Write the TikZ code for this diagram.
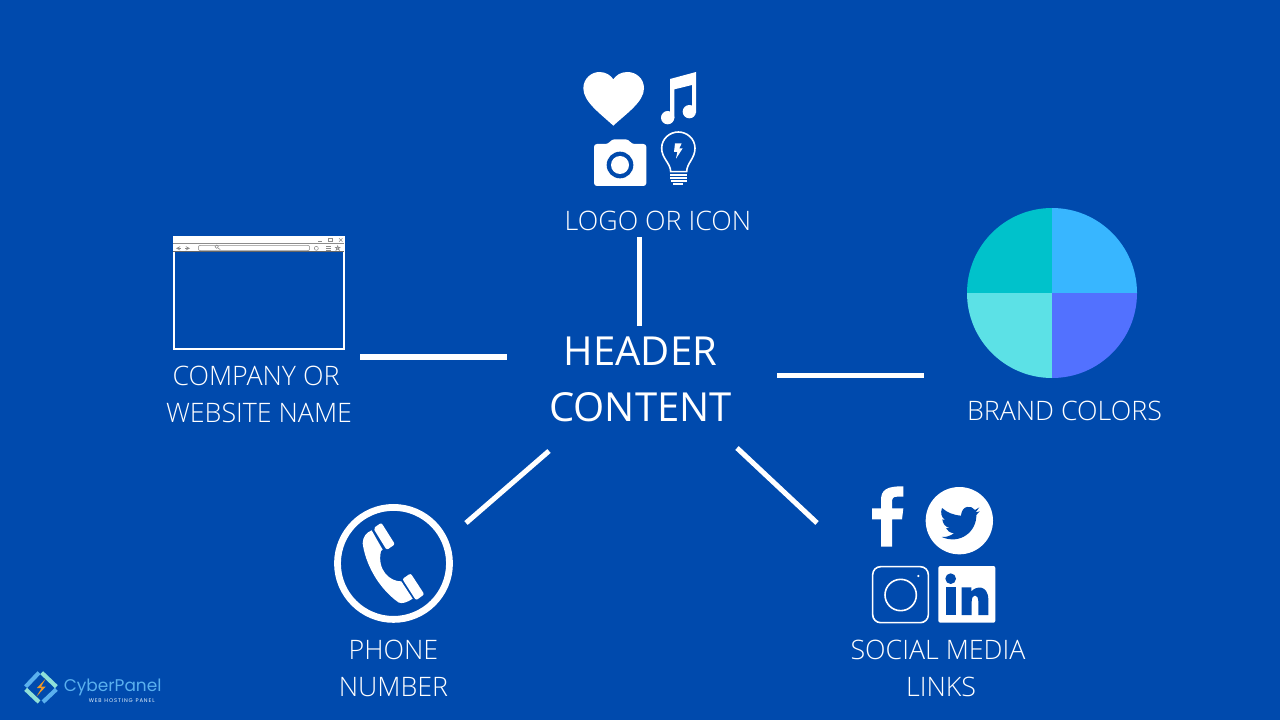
\documentclass[tikz,border=0pt]{standalone}
\usepackage{fontspec}
\setmainfont{Open Sans}
\newfontfamily\lightf{Open Sans Light}
\newfontfamily\logof{Poppins}
\definecolor{bg}{HTML}{004AAD}
\definecolor{pa}{HTML}{00C2CB}
\definecolor{pb}{HTML}{38B6FF}
\definecolor{pc}{HTML}{5CE1E6}
\definecolor{pd}{HTML}{5271FF}
\definecolor{lg}{HTML}{5AB0EE}
\definecolor{lt}{HTML}{8FE0D8}
\definecolor{ora}{HTML}{F59A23}
\tikzset{
  lab/.style={text=white,font=\lightf\fontsize{20.1pt}{24pt}\selectfont,inner sep=0pt,anchor=center},
  head/.style={text=white,font=\fontsize{30pt}{36pt}\selectfont,inner sep=0pt,anchor=center},
  conn/.style={draw=white,line width=3.8pt},
  z1/.style={shift={(560,60)},x=0.25pt,y=-0.25pt},
  z2/.style={shift={(160,230)},x=0.25pt,y=-0.25pt},
  z3/.style={shift={(320,495)},x=0.25pt,y=-0.25pt},
  z4/.style={shift={(860,480)},x=0.25pt,y=-0.25pt},
  z5/.style={shift={(15,660)},x=0.25pt,y=-0.25pt},
  gr/.style={draw=black!45,line width=0.4pt},
}
\begin{document}
\begin{tikzpicture}[x=0.75pt,y=-0.75pt]
\useasboundingbox (0,0) rectangle (1280,720);
\fill[bg] (0,0) rectangle (1280,720);
% texts
\node[head] (hdra) at (640.5,351) {HEADER};
\node[head] (hdrb) at (640.5,407) {CONTENT};
\node[lab] (logo) at (658,221) {LOGO OR ICON};
\node[lab] (coa) at (256,376) {COMPANY OR};
\node[lab] (cob) at (259,413) {WEBSITE NAME};
\node[lab] (brand) at (1064.5,411) {BRAND COLORS};
\node[lab] (pha) at (393.5,650) {PHONE};
\node[lab] (phb) at (393.5,687) {NUMBER};
\node[lab] (soa) at (938,650) {SOCIAL MEDIA};
\node[lab] (sob) at (941,687) {LINKS};
% connectors
\coordinate (c1a) at (639.5,237); \coordinate (c1b) at (639.5,326);
\coordinate (c2a) at (360,357); \coordinate (c2b) at (507,357);
\coordinate (c3a) at (777,375.5); \coordinate (c3b) at (924,375.5);
\coordinate (c4a) at (549,451); \coordinate (c4b) at (466,523);
\coordinate (c5a) at (737,448); \coordinate (c5b) at (817,523);
\draw[conn] (c1a) -- (c1b);
\draw[conn] (c2a) -- (c2b);
\draw[conn] (c3a) -- (c3b);
\draw[conn] (c4a) -- (c4b);
\draw[conn] (c5a) -- (c5b);
% top icons
\begin{scope}[z1]
\fill[white] (160,197) .. controls (120,160) and (70,125) .. (70,85)
  .. controls (70,55) and (95,36) .. (118,36)
  .. controls (138,36) and (152,46) .. (160,58)
  .. controls (168,46) and (182,36) .. (202,36)
  .. controls (228,36) and (252,55) .. (252,85)
  .. controls (252,125) and (200,160) .. (160,197) -- cycle;
\fill[white] (330,57) -- (408,36) -- (408,158) -- (396,158) -- (396,75) -- (343,88) -- (343,175) -- (330,175) -- cycle;
\fill[white] (323,173) circle[x radius=20,y radius=20];
\fill[white] (388,155) circle[x radius=20,y radius=20];
\fill[white,rounded corners=2.2pt] (102,252) -- (145,252) -- (155,238) -- (205,238) -- (215,252) -- (259,252) -- (259,378) -- (102,378) -- cycle;
\fill[bg] (180,315) circle[x radius=40,y radius=40];
\fill[white] (180,315) circle[x radius=27,y radius=27];
\draw[white,line width=1.2pt] (332,335) .. controls (332,310) and (305,295) .. (305,265)
  .. controls (305,235) and (330,216) .. (355,216)
  .. controls (380,216) and (405,235) .. (405,265)
  .. controls (405,295) and (380,310) .. (380,335) -- cycle;
\draw[white,line width=1.2pt] (330,345) -- (382,345) (330,354) -- (382,354) (332,363) -- (380,363) (340,372) -- (370,372);
\fill[white] (345,250) -- (365,250) -- (358,265) -- (368,265) -- (348,296) -- (352,276) -- (342,276) -- cycle;
\end{scope}
% browser window
\fill[white] (173,237.5) rectangle (344,252);
\draw[white,line width=1.5pt] (173.5,237.5) rectangle (344,349);
\begin{scope}[z2]
\draw[gr,line width=0.6pt] (40,41) -- (553,41);
\draw[black!60,line width=0.8pt] (40,65) -- (553,65);
\draw[gr,rounded corners=1.5pt] (115,46) rectangle (449,62);
\draw[gr] (170,50) circle[x radius=5,y radius=5] (174,54) -- (181,59);
\draw[gr,->,>=stealth] (62,55) -- (48,55);
\draw[gr,->,>=stealth] (76,55) -- (90,55);
\draw[gr] (469,55) circle[x radius=6,y radius=6];
\draw[gr] (499,50) -- (512,50) (499,55) -- (512,55) (499,60) -- (512,60);
\draw[gr] (533,47) -- (538,61) -- (526,52) -- (540,52) -- (528,61) -- cycle;
\draw[gr] (475,35) -- (486,35);
\draw[gr] (505,25) rectangle (518,35);
\fill[black!45] (505,25) rectangle (518,28);
\draw[gr] (537,25) -- (547,35) (547,25) -- (537,35);
\end{scope}
% pie (y axis points down here, so angles run clockwise on the page)
\fill[pa] (1052,293) -- (967,293) arc[start angle=180,end angle=270,radius=85] -- cycle;
\fill[pb] (1052,293) -- (1052,208) arc[start angle=270,end angle=360,radius=85] -- cycle;
\fill[pc] (1052,293) -- (967,293) arc[start angle=180,end angle=90,radius=85] -- cycle;
\fill[pd] (1052,293) -- (1137,293) arc[start angle=0,end angle=90,radius=85] -- cycle;
% phone
\draw[white,line width=5.1pt] (393.5,563.4) circle[radius=56];
\begin{scope}[z3]
\fill[white,rounded corners=1.5pt] (160,100) -- (184,83) -- (225,148) -- (200,165) -- cycle;
\fill[white,rounded corners=1.5pt] (247,252) -- (272,235) -- (313,298) -- (288,316) -- cycle;
\fill[white] (155,106) .. controls (140,112) and (128,125) .. (128,145)
  .. controls (135,200) and (170,275) .. (235,322)
  .. controls (245,328) and (262,322) .. (278,311)
  -- (244,259) .. controls (210,260) and (170,225) .. (183,168)
  -- (188,164) -- cycle;
\end{scope}
% social
\begin{scope}[z4]
\fill[white] (63,200) -- (63,118) -- (36,118) -- (36,85) -- (63,85) -- (63,60)
  .. controls (63,30) and (80,18) .. (130,19) -- (130,50) -- (112,50)
  .. controls (98,50) and (96,55) .. (96,68) -- (96,85) -- (130,85) -- (126,118) -- (96,118) -- (96,200) -- cycle;
\fill[white] (298,122) circle[x radius=101,y radius=101];
\fill[bg] (358,82) -- (345,90) .. controls (335,75) and (305,75) .. (303,107)
  .. controls (280,105) and (262,98) .. (246,84)
  .. controls (240,100) and (245,112) .. (255,120) -- (247,118)
  .. controls (248,130) and (255,140) .. (268,144) -- (258,145)
  .. controls (262,153) and (270,158) .. (282,160)
  .. controls (270,168) and (258,172) .. (245,171)
  .. controls (300,195) and (350,155) .. (349,105)
  -- (359,94) -- (347,97) -- cycle;
\draw[white,line width=1.2pt,rounded corners=6pt] (38,260) rectangle (205,428);
\draw[white,line width=1.2pt] (122,345) circle[x radius=47,y radius=47];
\fill[white] (175,288) circle[x radius=3.5,y radius=3.5];
\fill[white,rounded corners=1.5pt] (235,258) rectangle (406,428);
\fill[bg] (272,296) circle[x radius=16,y radius=16];
\fill[bg] (258,322) rectangle (288,405);
\fill[bg] (305,405) -- (305,322) -- (334,322) -- (334,335)
  .. controls (345,318) and (385,312) .. (385,360)
  -- (385,405) -- (355,405) -- (355,365)
  .. controls (355,340) and (335,340) .. (335,365) -- (335,405) -- cycle;
\end{scope}
% logo
\begin{scope}[z5]
\draw[lg,line width=3.1pt] (32,80) -- (72,38);
\draw[lt,line width=3.1pt] (80,38) -- (124,80);
\draw[lg,line width=3.1pt] (124,88) -- (84,126);
\draw[lt,line width=3.1pt] (72,126) -- (32,88);
\fill[ora] (92,56) -- (66,84) -- (80,84) -- (64,110) -- (92,80) -- (78,80) -- cycle;
\node[text=lg,font=\logof\fontsize{12.7pt}{15pt}\selectfont,inner sep=0pt,anchor=center] (cpn) at (293,82) {CyberPanel};
\node[text=white!85!lg,font=\logof\fontsize{4pt}{5pt}\selectfont,inner sep=0pt,anchor=center] (cps) at (320,122) {W\,E\,B\,\,\,H\,O\,S\,T\,I\,N\,G\,\,\,P\,A\,N\,E\,L};
\end{scope}
\end{tikzpicture}
\end{document}
